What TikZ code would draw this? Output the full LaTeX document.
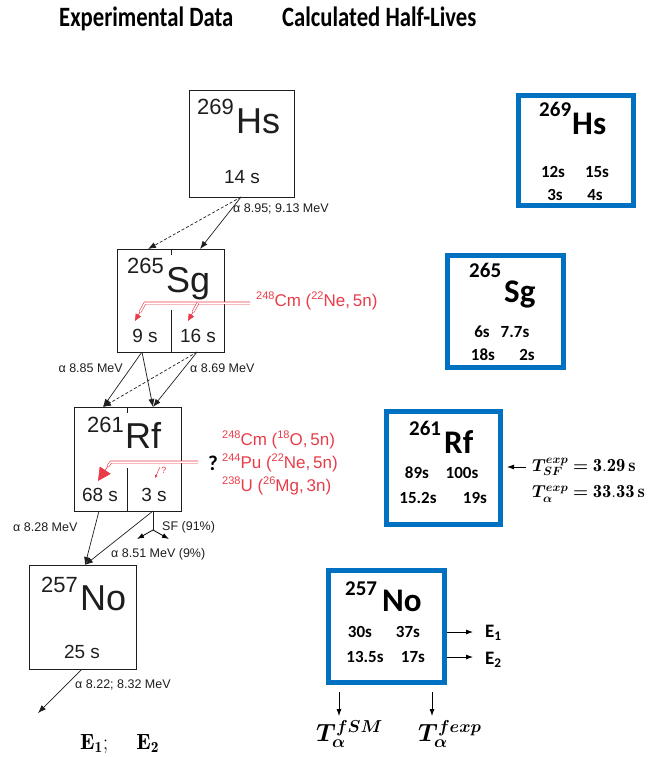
\documentclass[tikz,border=0pt]{standalone}
\usepackage{bm}
\usepackage{fontspec}
\newfontfamily\helv{Liberation Sans}
\newfontfamily\calib{Carlito}
\usetikzlibrary{arrows.meta}
\definecolor{nred}{RGB}{232,60,72}
\definecolor{nblue}{RGB}{0,112,192}
\definecolor{ink}{RGB}{30,30,30}
\newcommand\fsz[1]{\fontsize{#1}{#1}\selectfont}
\newcommand\rsup[1]{\raisebox{0.42em}{\fsz{11}#1}}
\begin{document}
\begin{tikzpicture}[x=1pt,y=-1pt,
  lbox/.style={draw=ink, line width=0.8pt, inner sep=0pt},
  bbox/.style={draw=nblue, line width=5pt, inner sep=0pt},
  arr/.style={draw=ink, line width=0.7pt, -{Latex[length=8pt,width=6pt]}},
  darr/.style={arr, dash pattern=on 3pt off 2pt},
  sarr/.style={draw=black, line width=0.8pt, -{Latex[length=7pt,width=5pt]}},
  dbl/.style={draw=nred, double=white, double distance=1.5pt, line width=0.6pt},
  rtip/.style={draw=nred, fill=nred, line width=0.6pt, -{Triangle[length=7pt,width=6pt]}},
  lab/.style={font=\helv\fsz{12.5}, inner sep=0pt, text=ink},
  sym/.style={font=\helv\fsz{36}, inner sep=0pt, text=ink, anchor=base west},
  iso/.style={font=\helv\fsz{22}, inner sep=0pt, text=ink, anchor=base west},
  hl/.style={font=\helv\fsz{19}, inner sep=0pt, text=ink, anchor=base},
  redt/.style={font=\helv\fsz{17}, inner sep=0pt, text=nred, anchor=west},
  bsym/.style={font=\calib\bfseries\fsz{33}, inner sep=0pt, anchor=base west},
  biso/.style={font=\calib\bfseries\fsz{21}, inner sep=0pt, anchor=base west},
  bval/.style={font=\calib\bfseries\fsz{17}, inner sep=0pt},
  head/.style={font=\calib\bfseries\fsz{28}, inner sep=0pt, anchor=base west},
  fml/.style={inner sep=0pt, font=\fsz{18.5}}
]
\useasboundingbox (0,0) rectangle (658,757);

% headings
\node[head] (h1) at (59,27) {\scalebox{0.81}[1]{Experimental Data}};
\node[head] (h2) at (282,27) {\scalebox{0.81}[1]{Calculated Half-Lives}};

% ---------------- left: experimental boxes
\node[lbox, minimum width=105pt, minimum height=107pt] (hsL) at (241.5,143.5) {};
\node[lbox, minimum width=107pt, minimum height=103pt] (sgL) at (170.5,300.5) {};
\node[lbox, minimum width=107pt, minimum height=104pt] (rfL) at (127.5,459) {};
\node[lbox, minimum width=107pt, minimum height=104pt] (noL) at (82.5,617) {};

\draw[draw=ink, line width=0.8pt] (171,249) -- (171,255) (171,310) -- (171,352);
\draw[draw=ink, line width=0.8pt] (127,407) -- (127,413) (127,468) -- (127,511);

\node[iso] (hsA) at (197,115) {269};
\node[sym] (hsS) at (236,133) {Hs};
\node[hl] (hsT) at (242,183) {14 s};

\node[iso] (sgA) at (127,273) {265};
\node[sym] (sgS) at (166,292) {Sg};
\node[hl] (sgT1) at (145,342) {9 s};
\node[hl] (sgT2) at (198,342) {16 s};

\node[iso] (rfA) at (87,432) {261};
\node[sym] (rfS) at (125,448) {Rf};
\node[hl] (rfT1) at (100,501) {68 s};
\node[hl] (rfT2) at (154,501) {3 s};

\node[iso] (noA) at (41,592) {257};
\node[sym] (noS) at (80,610) {No};
\node[hl] (noT) at (82,658) {25 s};

% decay arrows
\coordinate (hsOut) at (241,197);
\coordinate (sgIn1) at (148,249);
\coordinate (sgIn2) at (200,249);
\draw[darr] (hsOut) -- (sgIn1);
\draw[arr] (hsOut) -- (sgIn2);
\node[lab, anchor=west] (l1) at (233,209) {α 8.95; 9.13 MeV};

\coordinate (sgOut1) at (142,352);
\coordinate (sgOut2) at (197,352);
\coordinate (rfIn1) at (103,407);
\coordinate (rfIn2) at (153,407);
\draw[arr] (sgOut1) -- (rfIn1);
\draw[arr] (sgOut1) -- (rfIn2);
\draw[arr] (sgOut2) -- (rfIn2);
\draw[darr] (sgOut2) -- (rfIn1);
\node[lab, anchor=east] (l2) at (123,368) {α 8.85 MeV};
\node[lab, anchor=west] (l3) at (190,368) {α 8.69 MeV};

\coordinate (rfOut1) at (99,511);
\coordinate (rfOut2) at (153,511);
\coordinate (noIn) at (85,565);
\coordinate (sfJ) at (153,530);
\coordinate (sfL) at (137,539);
\coordinate (sfR) at (169,539);
\draw[arr] (rfOut1) -- (noIn);
\draw[arr] (rfOut2) -- (noIn);
\draw[draw=ink, line width=0.7pt] (rfOut2) -- (sfJ);
\draw[sarr] (sfJ) -- (sfL);
\draw[sarr] (sfJ) -- (sfR);
\node[lab, anchor=west] (l4) at (13,527) {α 8.28 MeV};
\node[lab, anchor=west] (l5) at (162,527) {SF (91\%)};
\node[lab, anchor=west] (l6) at (111,554) {α 8.51 MeV (9\%)};

\coordinate (noOut) at (82,669);
\coordinate (noEnd) at (38,713);
\draw[arr] (noOut) -- (noEnd);
\node[lab, anchor=west] (l7) at (75,685) {α 8.22; 8.32 MeV};

\node[anchor=base west, inner sep=0pt, font=\fsz{22}] (e12) at (80,749) {$\mathbf{E_1}$;\hspace{28pt}$\mathbf{E_2}$};

% red production paths
\coordinate (sgR0) at (250,303);
\coordinate (sgR1) at (145,303);
\coordinate (sgR1b) at (140,312);
\coordinate (sgR1t) at (135,321);
\coordinate (sgR2) at (198,303);
\coordinate (sgR2b) at (193,312);
\coordinate (sgR2t) at (188,321);
\draw[dbl] (sgR0) -- (sgR1) -- (sgR1b);
\draw[dbl] (sgR2) -- (sgR2b);
\draw[rtip] (sgR1b) -- (sgR1t);
\draw[rtip] (sgR2b) -- (sgR2t);
\node[redt] (rs) at (256,301) {\rsup{248}Cm (\rsup{22}Ne,\,5n)};

\coordinate (rfR0) at (198,462);
\coordinate (rfR1) at (111,462);
\coordinate (rfR1b) at (108,466);
\coordinate (rfR1t) at (98,481);
\draw[dbl] (rfR0) -- (rfR1) -- (rfR1b);
\draw[draw=nred, fill=nred, line width=0.6pt, -{Triangle[length=13pt,width=13pt]}] (rfR1b) -- (rfR1t);
\coordinate (rfQ0) at (160,467);
\coordinate (rfQ1) at (155,478);
\draw[draw=nred, line width=0.5pt, -{Latex[length=3pt,width=3pt]}] (rfQ0) -- (rfQ1);
\node[inner sep=0pt, text=nred, font=\helv\fsz{9}] (rfQ) at (164,470) {?};
\node[inner sep=0pt, font=\calib\bfseries\fsz{21}] (qm) at (213,463) {?};
\node[redt] (rr1) at (222,440) {\rsup{248}Cm (\rsup{18}O,\,5n)};
\node[redt] (rr2) at (222,463) {\rsup{244}Pu (\rsup{22}Ne,\,5n)};
\node[redt] (rr3) at (222,486) {\rsup{238}U (\rsup{26}Mg,\,3n)};

% ---------------- right: calculated boxes
\node[bbox, minimum width=115pt, minimum height=110pt] (hsB) at (576,150.5) {};
\node[biso] (hsBA) at (539,117) {269};
\node[bsym] (hsBS) at (572,135) {Hs};
\node[bval] (hsv1) at (553,172) {12s};
\node[bval] (hsv2) at (597,172) {15s};
\node[bval] (hsv3) at (555,195) {3s};
\node[bval] (hsv4) at (595,195) {4s};

\node[bbox, minimum width=116pt, minimum height=112pt] (sgB) at (505.5,311.5) {};
\node[biso] (sgBA) at (469,277) {265};
\node[bsym] (sgBS) at (504,302) {Sg};
\node[bval] (sgv1) at (482,332) {6s};
\node[bval] (sgv2) at (515,332) {7.7s};
\node[bval] (sgv3) at (483,355) {18s};
\node[bval] (sgv4) at (527,355) {2s};

\node[bbox, minimum width=114pt, minimum height=113pt] (rfB) at (443.5,468) {};
\node[biso] (rfBA) at (409,435) {261};
\node[bsym] (rfBS) at (444,453) {Rf};
\node[bval] (rfv1) at (417,473) {89s};
\node[bval] (rfv2) at (462,473) {100s};
\node[bval] (rfv3) at (418,498) {15.2s};
\node[bval] (rfv4) at (475,498) {19s};

\node[fml, anchor=west] (tsf) at (532,467) {$\bm{T^{exp}_{SF}} \bm{=} \mathbf{3.29\,s}$};
\node[fml, anchor=west] (tal) at (532,494) {$\bm{T^{exp}_{\alpha}} \bm{=} \mathbf{33.33\,s}$};
\coordinate (rfArr0) at (526,467);
\coordinate (rfArr1) at (507,467);
\draw[sarr] (rfArr0) -- (rfArr1);

\node[bbox, minimum width=116pt, minimum height=112pt] (noB) at (386.5,626.5) {};
\node[biso] (noBA) at (345,595) {257};
\node[bsym] (noBS) at (382,611) {No};
\node[bval] (nov1) at (360,632) {30s};
\node[bval] (nov2) at (408,632) {37s};
\node[bval] (nov3) at (365,657) {13.5s};
\node[bval] (nov4) at (413,657) {17s};

\node[inner sep=0pt, anchor=west, font=\calib\bfseries\fsz{19}] (E1) at (485,633) {E\textsubscript{1}};
\node[inner sep=0pt, anchor=west, font=\calib\bfseries\fsz{19}] (E2) at (485,660) {E\textsubscript{2}};
\coordinate (e1s) at (447,632);
\coordinate (e2s) at (447,657);
\coordinate (e1e) at (473,632);
\coordinate (e2e) at (473,657);
\draw[sarr] (e1s) -- (e1e);
\draw[sarr] (e2s) -- (e2e);

\coordinate (d1s) at (339,692);
\coordinate (d2s) at (432,692);
\coordinate (d1e) at (339,716);
\coordinate (d2e) at (432,716);
\node[inner sep=0pt, anchor=north west, font=\fsz{27}] (tfsm) at (316,720) {$\bm{T^{fSM}_{\alpha}}$};
\node[inner sep=0pt, anchor=north west, font=\fsz{27}] (tfexp) at (418,720) {$\bm{T^{fexp}_{\alpha}}$};
\draw[sarr] (d1s) -- (d1e);
\draw[sarr] (d2s) -- (d2e);
\end{tikzpicture}
\end{document}
